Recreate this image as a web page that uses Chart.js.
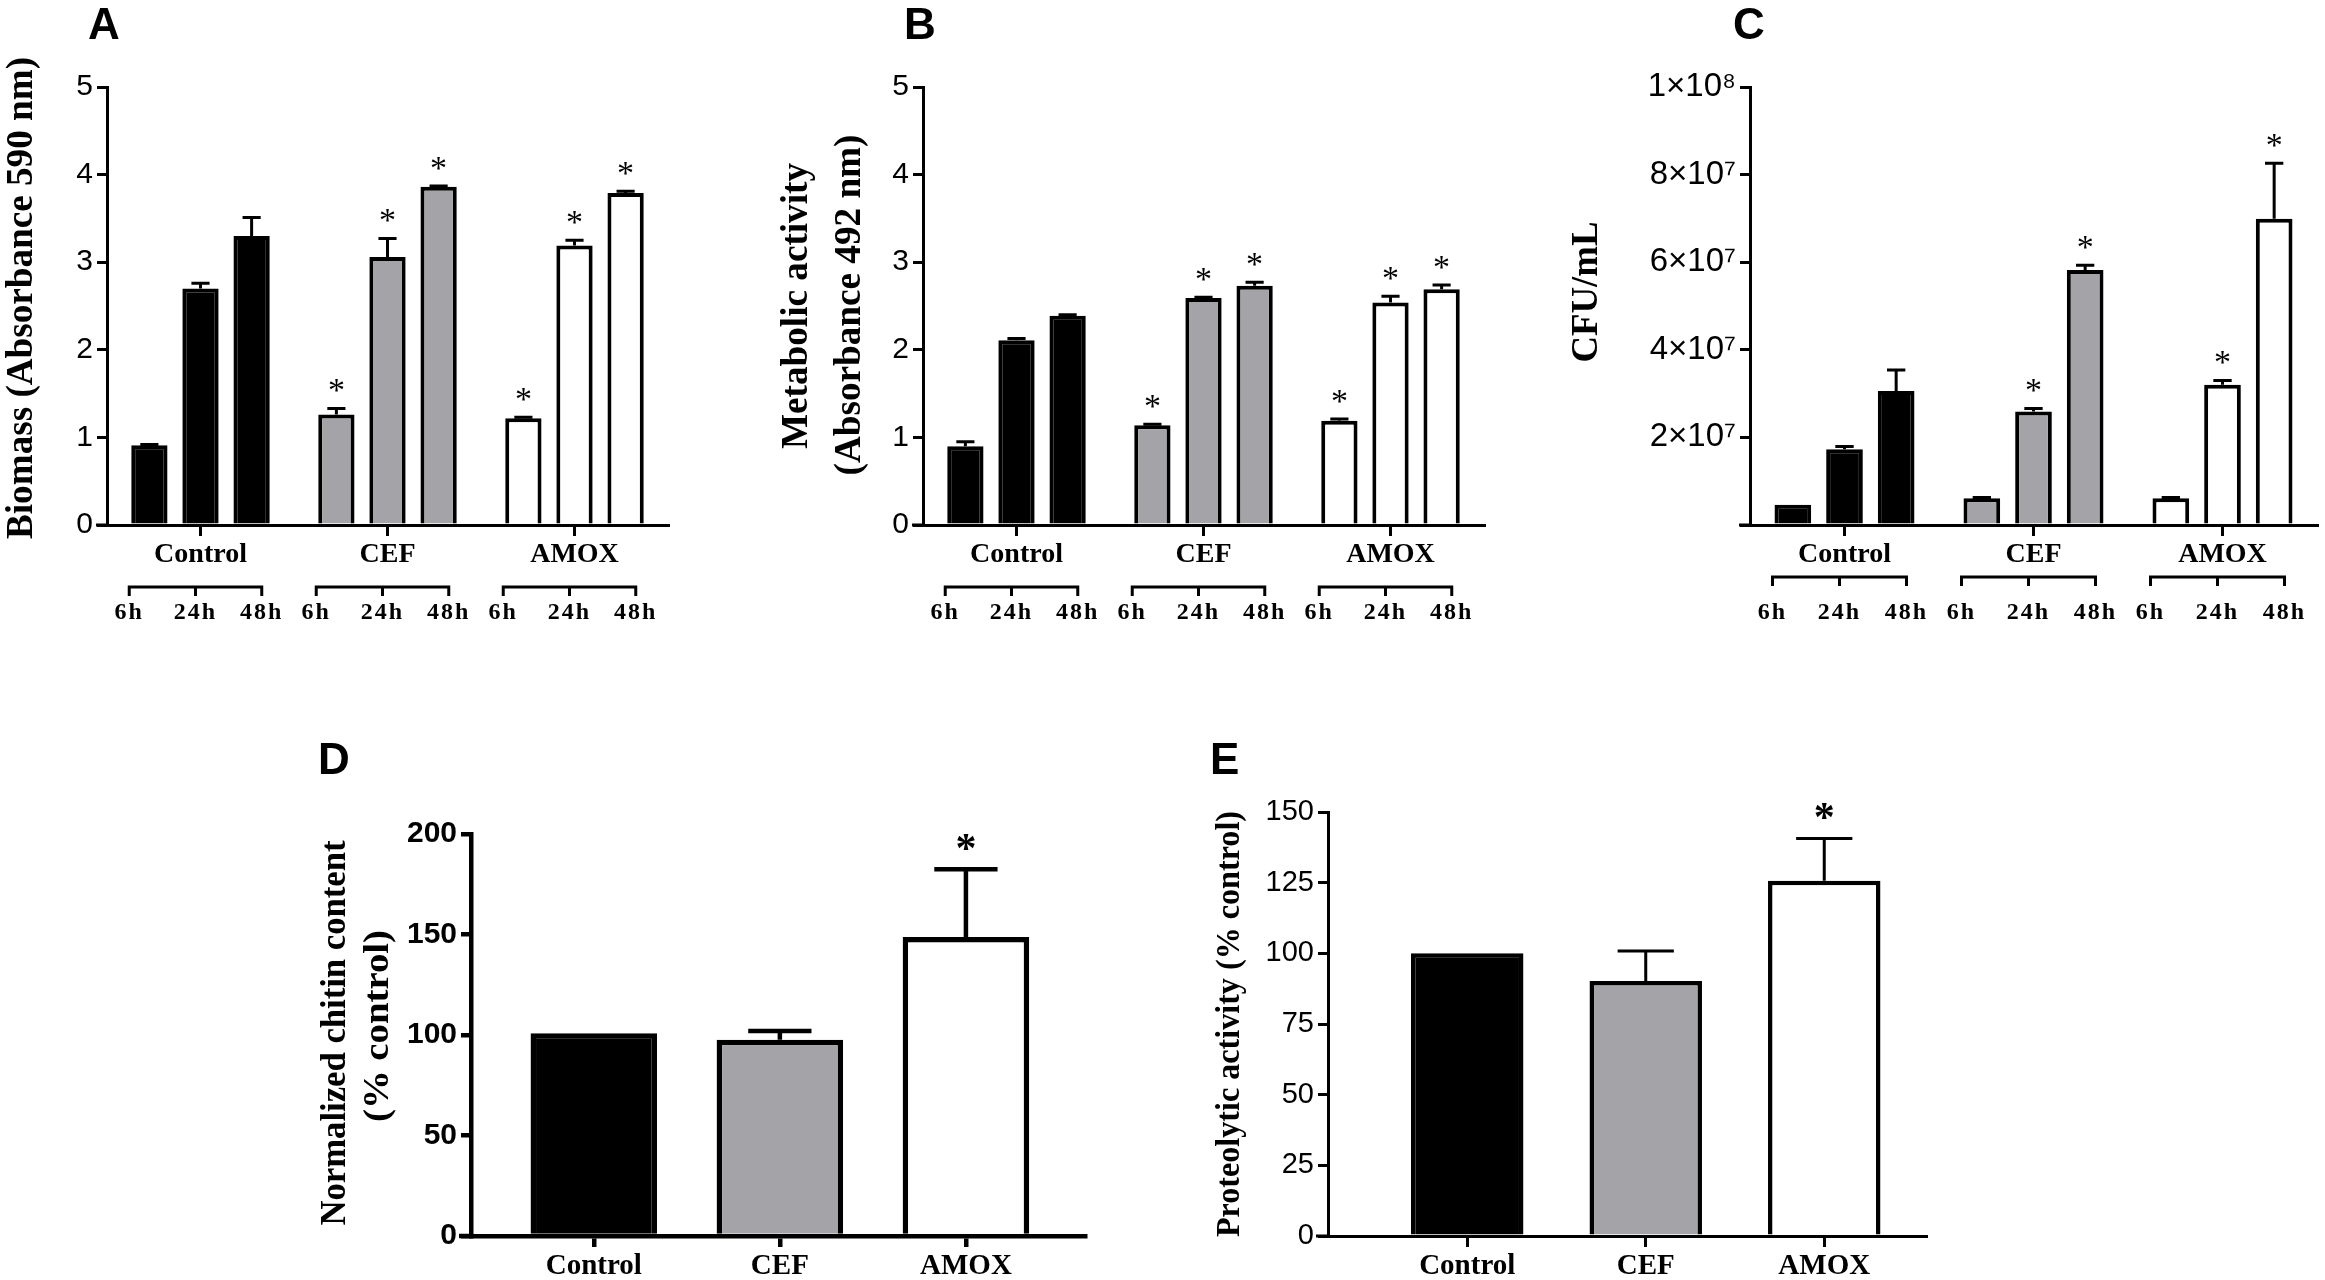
<!DOCTYPE html>
<html>
<head>
<meta charset="utf-8">
<script src="https://cdn.jsdelivr.net/npm/chart.js@4.4.1/dist/chart.umd.min.js"></script>
<style>
html,body{margin:0;padding:0;background:#fff;}
#wrap{position:relative;width:2325px;height:1280px;overflow:hidden;}
.panel{position:absolute;}
</style>
</head>
<body>
<div id="wrap">
  <div class="panel" style="left:0px;top:0px;width:700px;height:640px"><canvas id="cA"></canvas></div>
  <div class="panel" style="left:760px;top:0px;width:740px;height:640px"><canvas id="cB"></canvas></div>
  <div class="panel" style="left:1540px;top:0px;width:785px;height:640px"><canvas id="cC"></canvas></div>
  <div class="panel" style="left:280px;top:700px;width:820px;height:580px"><canvas id="cD"></canvas></div>
  <div class="panel" style="left:1180px;top:700px;width:780px;height:580px"><canvas id="cE"></canvas></div>
</div>
<script>
var groups = ['Control', 'CEF', 'AMOX'];
var times = ['6h', '24h', '48h'];
var fills = ['#000000', '#a4a4a8', '#ffffff'];

// A - biomass (absorbance 590 nm), one array per time point: Control, CEF, AMOX
var biomass6h = [0.91, 1.26, 1.22];
var biomass24h = [2.70, 3.06, 3.19];
var biomass48h = [3.30, 3.86, 3.79];
var biomassErr6h = [0.01, 0.07, 0.01];
var biomassErr24h = [0.06, 0.21, 0.06];
var biomassErr48h = [0.21, 0.01, 0.02];

// B - metabolic activity (absorbance 492 nm)
var metab6h = [0.90, 1.14, 1.19];
var metab24h = [2.11, 2.59, 2.54];
var metab48h = [2.39, 2.73, 2.69];
var metabErr6h = [0.05, 0.01, 0.02];
var metabErr24h = [0.02, 0.01, 0.07];
var metabErr48h = [0.01, 0.04, 0.05];

// C - CFU/mL
var cfu6h = [4.6e6, 6.1e6, 6.1e6];
var cfu24h = [1.73e7, 2.59e7, 3.20e7];
var cfu48h = [3.06e7, 5.82e7, 6.99e7];
var cfuErr6h = [0, 2e5, 2e5];
var cfuErr24h = [6e5, 7e5, 1.0e6];
var cfuErr48h = [4.8e6, 1.1e6, 1.27e7];

// significance marks, per time point: Control, CEF, AMOX
var starsAB = [[0, 1, 1], [0, 1, 1], [0, 1, 1]];
var starsC = [[0, 0, 0], [0, 1, 1], [0, 1, 1]];

// D - normalized chitin content (% control)
var chitin = [100.9, 97.6, 148.7];
var chitinErr = [0, 4.4, 33.8];
// E - proteolytic activity (% control)
var proteo = [100, 90.2, 125.7];
var proteoErr = [0, 10.6, 14.9];
var starsDE = [0, 0, 1];

// tick labels
var absTicks = ['0', '1', '2', '3', '4', '5'];
var cfuTicks = ['', '2\u00d710\u2077', '4\u00d710\u2077', '6\u00d710\u2077', '8\u00d710\u2077', '1\u00d710\u2078'];
var chitinTicks = ['0', '50', '100', '150', '200'];
var proteoTicks = ['0', '25', '50', '75', '100', '125', '150'];

var SERIF = '"Liberation Serif", "Times New Roman", serif';
var SANS = '"Liberation Sans", Arial, sans-serif';
Chart.defaults.color = '#000';

var deco = {
  id: 'deco',
  afterDatasetsDraw: function(chart, args, o) {
    var ctx = chart.ctx, ys = chart.scales.y;
    ctx.save();
    ctx.strokeStyle = '#000';
    ctx.fillStyle = '#000';
    ctx.lineWidth = o.errWidth;
    chart.data.datasets.forEach(function(ds, i) {
      chart.getDatasetMeta(i).data.forEach(function(bar, j) {
        var v = ds.data[j];
        if (typeof v === 'object') v = v.y;
        var e = o.errs[i][j];
        var top = ys.getPixelForValue(v + e);
        if (e > 0) {
          var half = bar.width / 4;
          ctx.beginPath();
          ctx.moveTo(bar.x, bar.y);
          ctx.lineTo(bar.x, top);
          ctx.moveTo(bar.x - half, top);
          ctx.lineTo(bar.x + half, top);
          ctx.stroke();
        }
        if (o.stars[i][j]) {
          ctx.font = o.starFont;
          ctx.textAlign = 'center';
          ctx.textBaseline = 'middle';
          ctx.fillText('*', bar.x, Math.min(top, bar.y) - o.starGap);
        }
      });
    });
    ctx.restore();
  },
  afterDraw: function(chart, args, o) {
    var ctx = chart.ctx, a = chart.chartArea;
    ctx.save();
    ctx.fillStyle = '#000';
    ctx.strokeStyle = '#000';
    // panel letter
    ctx.font = 'bold 44px ' + SANS;
    ctx.textAlign = 'left';
    ctx.textBaseline = 'alphabetic';
    ctx.fillText(o.letter, o.lx, o.ly);
    // rotated axis titles, stretched to the measured length
    o.titles.forEach(function(t) {
      ctx.save();
      ctx.translate(t.x, t.y);
      ctx.rotate(-Math.PI / 2);
      ctx.font = 'bold ' + t.size + 'px ' + SERIF;
      var w = ctx.measureText(t.text).width;
      ctx.scale(t.len / w, 1);
      ctx.textAlign = 'center';
      ctx.textBaseline = 'middle';
      ctx.fillText(t.text, 0, 0);
      ctx.restore();
    });
    // little stub of the x axis left of the y axis
    ctx.lineWidth = o.axisWidth;
    ctx.beginPath();
    ctx.moveTo(a.left - o.stub, a.bottom);
    ctx.lineTo(a.left, a.bottom);
    ctx.stroke();
    // time brackets under the groups
    if (o.bracketY) {
      var m0 = chart.getDatasetMeta(0).data, m2 = chart.getDatasetMeta(2).data;
      ctx.lineWidth = 3;
      ctx.font = 'bold 24px ' + SERIF;
      ctx.letterSpacing = '2px';
      ctx.textAlign = 'center';
      ctx.textBaseline = 'middle';
      groups.forEach(function(g, j) {
        var l = m0[j].x - m0[j].width / 2 - 2;
        var r = m2[j].x + m2[j].width / 2 - 8;
        var xs = [l, (l + r) / 2, r];
        ctx.beginPath();
        ctx.moveTo(l, o.bracketY + 9);
        ctx.lineTo(l, o.bracketY);
        ctx.lineTo(r, o.bracketY);
        ctx.lineTo(r, o.bracketY + 9);
        ctx.moveTo(xs[1], o.bracketY);
        ctx.lineTo(xs[1], o.bracketY + 9);
        ctx.stroke();
        times.forEach(function(t, k) {
          ctx.fillText(t, xs[k], o.timeY);
        });
      });
    }
    ctx.restore();
  }
};

function yScale(max, step, labels, font, yW, w) {
  return {
    min: 0, max: max,
    ticks: { stepSize: step, font: font, color: '#000', padding: 4,
      callback: function(v, i) { return labels[i]; } },
    grid: { drawOnChartArea: false, tickLength: 10, color: '#000', lineWidth: w, tickWidth: w },
    border: { color: '#000', width: w },
    afterFit: function(s) { s.width = yW; }
  };
}

function timeChart(id, sets, errs, stars, max, step, labels, tickFont, pad, yW, d) {
  return new Chart(document.getElementById(id), {
    type: 'bar',
    data: {
      labels: groups,
      datasets: times.map(function(t, i) {
        return { label: t, data: sets[i], backgroundColor: fills, borderColor: '#000',
          borderWidth: 4, categoryPercentage: 0.82, barPercentage: 0.71 };
      })
    },
    options: {
      responsive: true, maintainAspectRatio: false, animation: false, devicePixelRatio: 1,
      layout: { padding: pad },
      plugins: {
        legend: { display: false }, tooltip: { enabled: false },
        deco: Object.assign({ errs: errs, stars: stars, errWidth: 3, axisWidth: 3, stub: 11,
          starFont: '34px ' + SERIF, starGap: 16, timeY: 613 }, d)
      },
      scales: {
        x: {
          offset: true,
          grid: { offset: false, drawOnChartArea: false, tickLength: 11, color: '#000', lineWidth: 3, tickWidth: 3 },
          border: { color: '#000', width: 3 },
          ticks: { font: { family: SERIF, size: 28, weight: 'bold' }, color: '#000', padding: 2, maxRotation: 0, autoSkip: false },
          afterFit: function(s) { s.height = 50; }
        },
        y: yScale(max, step, labels, tickFont, yW, 3)
      }
    },
    plugins: [deco]
  });
}

function pctChart(id, vals, errs, labels, max, step, tickFont, xMin, xMax, pad, bw, lw, barPct, d) {
  return new Chart(document.getElementById(id), {
    type: 'bar',
    data: {
      datasets: [{
        data: vals.map(function(v, i) { return { x: i, y: v }; }),
        backgroundColor: fills, borderColor: '#000', borderWidth: bw,
        categoryPercentage: 1, barPercentage: barPct
      }]
    },
    options: {
      responsive: true, maintainAspectRatio: false, animation: false, devicePixelRatio: 1,
      layout: { padding: pad },
      plugins: {
        legend: { display: false }, tooltip: { enabled: false },
        deco: Object.assign({ errs: [errs], stars: [starsDE], errWidth: lw, axisWidth: lw, stub: 12,
          starFont: 'bold 42px ' + SERIF, starGap: 18 }, d)
      },
      scales: {
        x: {
          type: 'linear', min: xMin, max: xMax, offset: false,
          afterBuildTicks: function(s) { s.ticks = [{ value: 0 }, { value: 1 }, { value: 2 }]; },
          grid: { offset: false, drawOnChartArea: false, tickLength: 11, color: '#000', lineWidth: lw, tickWidth: lw },
          border: { color: '#000', width: lw },
          ticks: { font: { family: SERIF, size: 29, weight: 'bold' }, color: '#000', padding: 2, maxRotation: 0, autoSkip: false,
            callback: function(v) { return groups[v]; } },
          afterFit: function(s) { s.height = 44; }
        },
        y: yScale(max, step, labels, tickFont, 70, lw)
      }
    },
    plugins: [deco]
  });
}

var absFont = { family: SANS, size: 30 };

timeChart('cA', [biomass6h, biomass24h, biomass48h], [biomassErr6h, biomassErr24h, biomassErr48h], starsAB,
  5, 1, absTicks, absFont, { left: 37, right: 32, top: 87, bottom: 65 }, 70,
  { letter: 'A', lx: 88, ly: 39, bracketY: 587,
    titles: [{ text: 'Biomass (Absorbance 590 nm)', x: 22, y: 298, len: 482, size: 37 }] });

timeChart('cB', [metab6h, metab24h, metab48h], [metabErr6h, metabErr24h, metabErr48h], starsAB,
  5, 1, absTicks, absFont, { left: 93, right: 16, top: 87, bottom: 65 }, 70,
  { letter: 'B', lx: 144, ly: 39, bracketY: 587,
    titles: [{ text: 'Metabolic activity', x: 37, y: 306, len: 286, size: 37 },
             { text: '(Absorbance 492 nm)', x: 90, y: 305, len: 341, size: 37 }] });

timeChart('cC', [cfu6h, cfu24h, cfu48h], [cfuErr6h, cfuErr24h, cfuErr48h], starsC,
  1e8, 2e7, cfuTicks, { family: SANS, size: 33 }, { left: 100, right: 8, top: 87, bottom: 65 }, 110,
  { letter: 'C', lx: 193, ly: 39, bracketY: 577,
    titles: [{ text: 'CFU/mL', x: 47, y: 292, len: 141, size: 37 }] });

pctChart('cD', chitin, chitinErr, chitinTicks, 200, 50, { family: SANS, size: 30, weight: 'bold' },
  -0.66, 2.64, { left: 121, right: 15, top: 134, bottom: 0 }, 5.5, 4.5, 0.68,
  { letter: 'D', lx: 38, ly: 74,
    titles: [{ text: 'Normalized chitin content', x: 56, y: 333, len: 385, size: 35 },
             { text: '(% control)', x: 99, y: 326, len: 192, size: 35 }] });

pctChart('cE', proteo, proteoErr, proteoTicks, 150, 25, { family: SANS, size: 29 },
  -0.78, 2.57, { left: 78, right: 34, top: 112, bottom: 0 }, 4.5, 3, 0.63,
  { letter: 'E', lx: 30, ly: 74,
    titles: [{ text: 'Proteolytic activity (% control)', x: 50, y: 324, len: 426, size: 33 }] });
</script>
</body>
</html>
